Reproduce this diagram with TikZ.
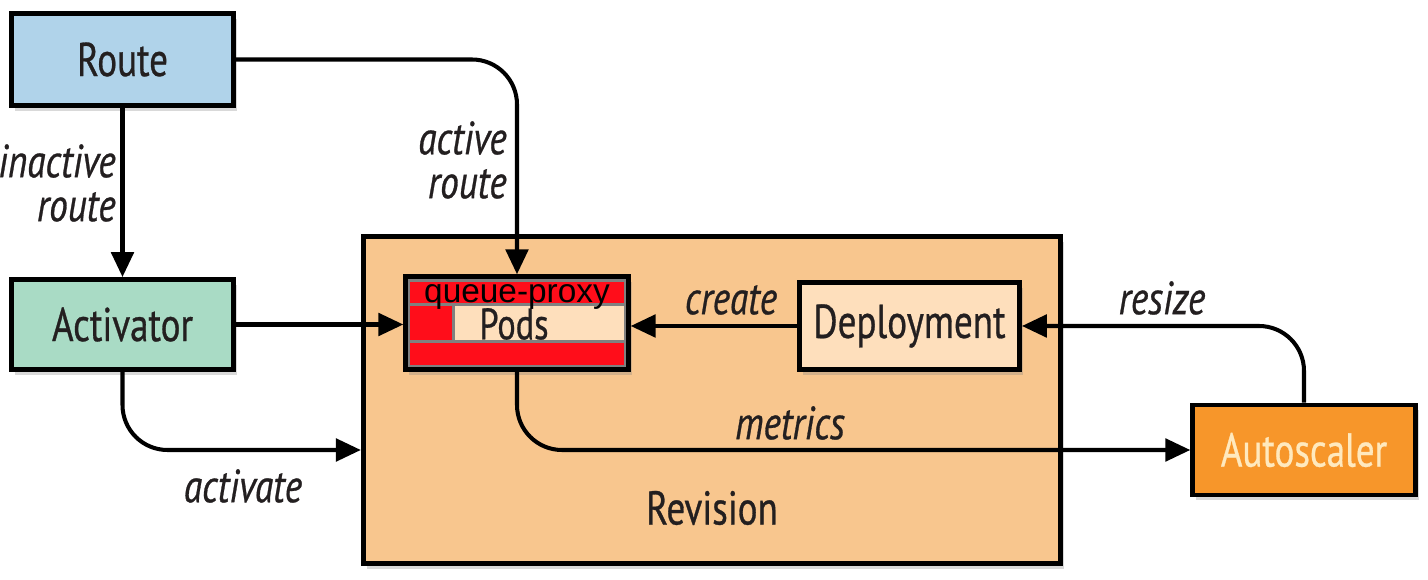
\documentclass[tikz,border=0pt]{standalone}
\usepackage{fontspec}
\setmainfont{Liberation Sans}
\newfontfamily\cond[FakeStretch=0.78,FakeBold=0.6]{PT Sans}
\newfontfamily\condl[FakeStretch=0.8,FakeBold=0.6]{PT Sans}
\newfontfamily\arialf{Liberation Sans}
\usetikzlibrary{arrows.meta,calc,shadows}
\definecolor{routeblue}{HTML}{B0D3EA}
\definecolor{actgreen}{HTML}{A9DBC5}
\definecolor{revorange}{HTML}{F8C68E}
\definecolor{peach}{HTML}{FEDFBC}
\definecolor{autoorange}{HTML}{F7962A}
\definecolor{cream}{HTML}{FFE9BE}
\definecolor{qred}{HTML}{FF0D1A}
\definecolor{ink}{HTML}{231F20}
\begin{document}
\begin{tikzpicture}[x=0.02cm,y=-0.02cm,
  box/.style={draw=black, line width=2.8pt, text=ink, font=\cond\fontsize{27}{30}\selectfont,
    inner sep=0pt, drop shadow={shadow xshift=2pt, shadow yshift=-3pt, opacity=0.3}},
  arr/.style={draw=black, line width=2.3pt, -{Triangle[length=0.5cm,width=0.45cm]}},
  lbl/.style={text=ink, font=\condl\itshape\fontsize{26.5}{25}\selectfont, inner sep=0pt, align=right},
]
\useasboundingbox (0,0) rectangle (1428,580);
% Revision
\node[box, fill=revorange, minimum width=13.95cm, minimum height=6.55cm] (rev) at (712,400) {};
\node[text=ink, font=\cond\fontsize{27}{30}\selectfont] (revlbl) at (712,508) {Revision};
% boxes
\node[box, fill=routeblue, minimum width=4.45cm, minimum height=1.85cm] (route) at (122.5,59.5) {Route};
\node[box, fill=actgreen, minimum width=4.45cm, minimum height=1.8cm] (act) at (122.5,324.5) {Activator};
\node[box, fill=peach, minimum width=4.4cm, minimum height=1.75cm] (dep) at (909.5,326) {Deployment};
\node[box, fill=autoorange, text=cream, minimum width=4.45cm, minimum height=1.8cm] (auto) at (1304,450) {Autoscaler};
% Pods
\node[box, fill=gray, minimum width=4.45cm, minimum height=1.85cm] (pods) at (517,323) {};
\fill[qred] (410,282) rectangle (624,303);
\fill[qred] (410,306) rectangle (452,340);
\fill[peach] (455,306) rectangle (624,340);
\fill[qred] (410,343) rectangle (624,365);
\node[text=ink, font=\cond\fontsize{25}{28}\selectfont, inner sep=0pt] (podslbl) at (514,324) {Pods};
\node[text=black, font=\arialf\fontsize{19}{22}\selectfont, inner sep=0pt] (qp) at (517,297) {queue-proxy};
% connectors
\draw[arr] (route) -- (act);
\draw[arr, rounded corners=0.9cm] (route.east) -| (pods.north);
\draw[arr] (act.east) -- (act.east -| pods.west);
\draw[arr, rounded corners=0.9cm] (act.south) |- ($(rev.west)+(0,50)$);
\draw[arr] (dep.west) -- (dep.west -| pods.east);
\draw[arr, rounded corners=0.9cm] (auto.north) |- (dep.east);
\draw[arr, rounded corners=0.9cm] (pods.south) |- (auto.west);
% labels
\node[lbl, anchor=east] (l1) at (116,183) {inactive\\route};
\node[lbl, anchor=east] (l2) at (507,160) {active\\route};
\node[lbl] (l3) at (731,300) {create};
\node[lbl] (l4) at (1162,298) {resize};
\node[lbl] (l5) at (790,423) {metrics};
\node[lbl] (l6) at (243,486) {activate};
\end{tikzpicture}
\end{document}
